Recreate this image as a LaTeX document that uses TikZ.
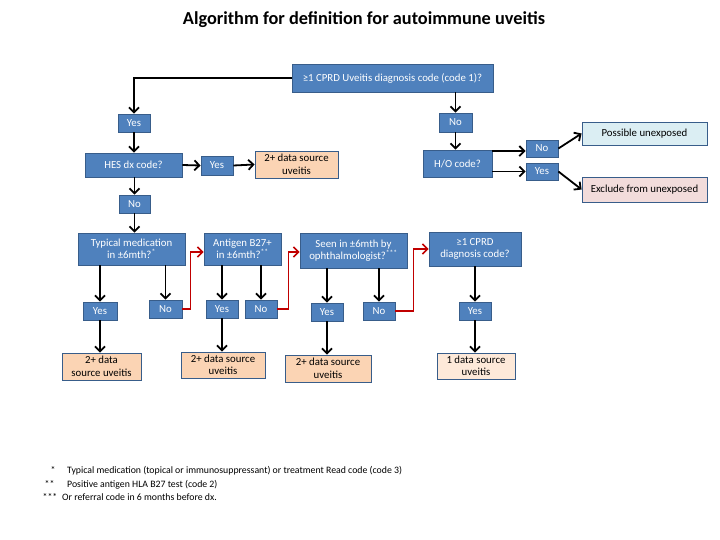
\documentclass[tikz,border=0pt]{standalone}
\usepackage{fontspec}
\setmainfont{Carlito}
\usetikzlibrary{arrows.meta}
\definecolor{bfill}{HTML}{4F81BD}
\definecolor{bdraw}{HTML}{385D8A}
\definecolor{peach}{HTML}{FBD4B4}
\definecolor{lpeach}{HTML}{FDE9D9}
\definecolor{lblue}{HTML}{DBEEF3}
\definecolor{lpink}{HTML}{F2DCDB}
\definecolor{arred}{HTML}{C00000}
\begin{document}
\begin{tikzpicture}[x=1pt,y=-1pt,
  box/.style={draw=bdraw, line width=0.8pt, fill=bfill, text=white,
    font=\fontsize{10.8}{12.5}\selectfont, align=center, inner sep=0pt},
  res/.style={box, fill=peach, text=black},
  arr/.style={line width=1.8pt, -{Straight Barb[length=5pt,width=10pt]}},
  rarr/.style={arr, draw=arred, line width=1.6pt},
  fn/.style={font=\fontsize{9.8}{11}\selectfont, inner sep=0pt}]
\useasboundingbox (0,0) rectangle (720,540);
\fill[white] (0,0) rectangle (720,540);

\node[font=\bfseries\fontsize{18.3}{21}\selectfont, inner sep=0pt] (title) at (364,20) {Algorithm for definition for autoimmune uveitis};

\node[box, minimum width=201, minimum height=28] (top) at (392.5,78) {≥1 CPRD Uveitis diagnosis code (code 1)?};
\node[box, minimum width=32, minimum height=18] (yes1) at (134,123) {Yes};
\node[box, minimum width=97, minimum height=24] (hes) at (133.5,165) {HES dx code?};
\node[box, minimum width=32, minimum height=19] (yes2) at (217,165.5) {Yes};
\node[res, minimum width=83, minimum height=27] (res1) at (296.5,164.5) {2+ data source\\uveitis};
\node[box, minimum width=31, minimum height=18] (no1) at (134.5,204) {No};
\node[box, minimum width=33, minimum height=19] (no2) at (455.5,122.5) {No};
\node[box, minimum width=69, minimum height=27] (ho) at (457.5,163.5) {H/O code?};
\node[box, minimum width=32, minimum height=17] (noR) at (542,148.5) {No};
\node[box, minimum width=32, minimum height=17] (yesR) at (542,171.5) {Yes};
\node[res, fill=lblue, minimum width=125, minimum height=23] (pos) at (644.5,133.5) {Possible unexposed};
\node[res, fill=lpink, minimum width=125, minimum height=25] (exc) at (644.5,189.5) {Exclude from unexposed};

\node[box, minimum width=107, minimum height=32] (typ) at (131.5,249) {Typical medication\\in ±6mth?\textsuperscript{*}};
\node[box, minimum width=77, minimum height=32] (ant) at (242.5,249) {Antigen B27+\\in ±6mth?\textsuperscript{**}};
\node[box, minimum width=107, minimum height=35] (seen) at (353.5,250.5) {Seen in ±6mth by\\ophthalmologist?\textsuperscript{***}};
\node[box, minimum width=92, minimum height=34] (cprd) at (475,249) {≥1 CPRD\\diagnosis code?};

\node[box, minimum width=34, minimum height=18] (yt) at (100,311) {Yes};
\node[box, minimum width=33, minimum height=18] (nt) at (165.5,309) {No};
\node[box, minimum width=32, minimum height=18] (ya) at (222,309) {Yes};
\node[box, minimum width=32, minimum height=18] (na) at (261,309) {No};
\node[box, minimum width=32, minimum height=18] (ys) at (327,312) {Yes};
\node[box, minimum width=32, minimum height=18] (ns) at (379,311) {No};
\node[box, minimum width=32, minimum height=18] (yc) at (475,311) {Yes};

\node[res, minimum width=79, minimum height=27] (rt) at (101.5,366.5) {2+ data\\source uveitis};
\node[res, minimum width=84, minimum height=26] (ra) at (223,365) {2+ data source\\uveitis};
\node[res, minimum width=86, minimum height=27] (rs) at (328,368.5) {2+ data source\\uveitis};
\node[res, fill=lpeach, minimum width=78, minimum height=26] (rc) at (476,366) {1 data source\\uveitis};

% connectors
\draw[arr] (top.west) -| (yes1.north);
\draw[arr] (yes1.south) -- (yes1.south |- hes.north);
\draw[arr] (hes.east) -- (yes2.west);
\draw[arr] (yes2.east) -- (res1.west);
\draw[arr] (hes.south -| no1.north) -- (no1.north);
\draw[arr] (no1.south) -- (no1.south |- typ.north);
\draw[arr] (no2.north |- top.south) -- (no2.north);
\draw[arr] (no2.south) -- (no2.south |- ho.north);
\draw[arr] ([yshift=-1.5pt]ho.north east) -- ([yshift=-1.5pt]ho.north east -| noR.west);
\draw[arr] (ho.east |- yesR.west) -- (yesR.west);
\draw[arr] (noR.east) -- (pos.west);
\draw[arr] (yesR.east) -- (exc.west);

\draw[arr] (yt.north |- typ.south) -- (yt.north);
\draw[arr] (nt.north |- typ.south) -- (nt.north);
\draw[arr] (yt.south) -- (yt.south |- rt.north);
\draw[rarr] (nt.east) -- ++(8,0) |- ([yshift=-3pt]ant.west);

\draw[arr] (ya.north |- ant.south) -- (ya.north);
\draw[arr] (na.north |- ant.south) -- (na.north);
\draw[arr] (ya.south) -- (ya.south |- ra.north);
\draw[rarr] (na.east) -- ++(11,0) |- ([yshift=-1.5pt]seen.west);

\draw[arr] (ys.north |- seen.south) -- (ys.north);
\draw[arr] (ns.north |- seen.south) -- (ns.north);
\draw[arr] (ys.south) -- (ys.south |- rs.north);
\draw[rarr] (ns.east) -- ++(18,0) |- (cprd.west);

\draw[arr] (yc.north |- cprd.south) -- (yc.north);
\draw[arr] (yc.south) -- (yc.south |- rc.north);

% footnotes
\node[fn, anchor=base] (s1) at (53,473) {*};
\node[fn, anchor=base west] (f1) at (67,473) {Typical medication (topical or immunosuppressant) or treatment Read code (code 3)};
\node[fn, anchor=base] (s2) at (49.5,487) {**};
\node[fn, anchor=base west] (f2) at (67,487) {Positive antigen HLA B27 test (code 2)};
\node[fn, anchor=base] (s3) at (50,500) {***};
\node[fn, anchor=base west] (f3) at (62,500) {Or referral code in 6 months before dx.};
\end{tikzpicture}
\end{document}
